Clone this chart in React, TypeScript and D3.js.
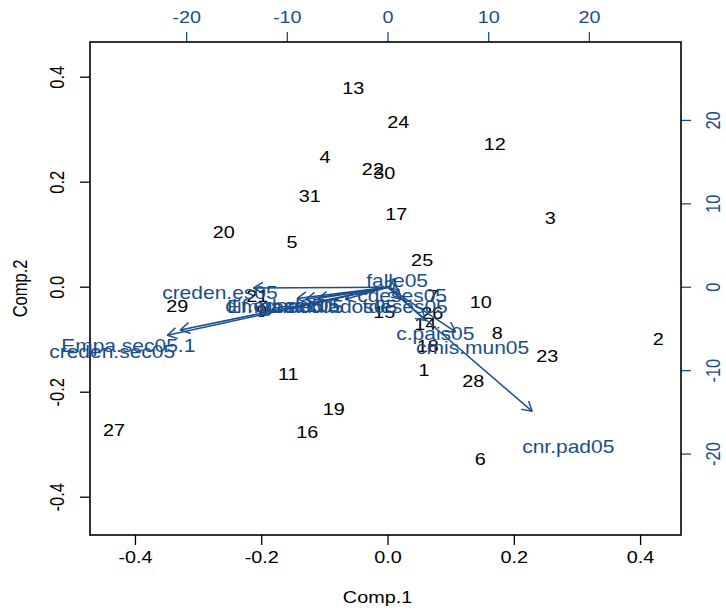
import React from "react";
import * as d3 from "d3";

// observation scores (Comp.1, Comp.2)
const obsNames = [
  "1", "2", "3", "4", "5", "6", "7", "8", "9", "10", "11", "12", "13", "14", "15", "16",
  "17", "18", "19", "20", "21", "22", "23", "24", "25", "26", "27", "28", "29", "30", "31"
];
const comp1 = [
  0.057, 0.428, 0.257, -0.1, -0.152, 0.146, 0.071, 0.173, -0.2, 0.147, -0.158, 0.169, -0.055, 0.059, -0.006, -0.128,
  0.013, 0.063, -0.086, -0.26, -0.207, -0.024, 0.252, 0.016, 0.054, 0.07, -0.434, 0.135, -0.334, -0.006, -0.124
];
const comp2 = [
  -0.15, -0.091, 0.14, 0.256, 0.094, -0.318, -0.009, -0.078, -0.036, -0.019, -0.156, 0.282, 0.387, -0.062, -0.038, -0.268,
  0.147, -0.104, -0.224, 0.113, -0.009, 0.233, -0.123, 0.324, 0.06, -0.04, -0.264, -0.171, -0.028, 0.225, 0.183
];

// variable loadings (label positions, top / right axes)
const varNames = [
  "creden.sec05", "Empa.sec05.1", "creden.es05", "dif.edad05", "Empa.sec05", "gr.sec05",
  "estudiados05", "tdeses05", "falle05", "cdeses05", "c.pais05", "cmis.mun05", "cnr.pad05"
];
const load1 = [-27.4, -25.8, -16.7, -11.3, -10.2, -8.7, -5.3, 1.7, 0.9, 1.4, 4.7, 8.4, 17.9];
const load2 = [-7.2, -6.4, -0.1, -1.7, -1.8, -1.7, -1.8, -1.8, 1.3, -0.5, -5.0, -6.7, -18.6];

const bottomTicks = [-0.4, -0.2, 0, 0.2, 0.4];
const leftTicks = [-0.4, -0.2, 0, 0.2, 0.4];
const topTicks = [-20, -10, 0, 10, 20];
const rightTicks = [-20, -10, 0, 10, 20];

const W = 726, H = 610;
const L = 90, R = 681, T = 42, B = 535;
const blue = "#1a4e8d";
const sx = 1.2; // picture is stretched horizontally
const font = "'Liberation Sans', Arial, Helvetica, sans-serif";

export default function App() {
  const x = d3.scaleLinear().domain([-0.472, 0.464]).range([L, R]);
  const y = d3.scaleLinear().domain([-0.472, 0.467]).range([B, T]);
  const x2 = d3.scaleLinear().domain([-29.6, 29.1]).range([L, R]);
  const y2 = d3.scaleLinear().domain([-29.7, 29.4]).range([B, T]);

  const label = (px: number, py: number, txt: string, color: string, key?: any, rot = false, fs = 16.5) => (
    <text
      key={key}
      transform={`translate(${px},${py}) scale(${sx},1)${rot ? " rotate(-90)" : ""}`}
      textAnchor="middle"
      dominantBaseline="central"
      fill={color}
      fontSize={fs}
      fontFamily={font}
    >
      {txt}
    </text>
  );

  const ox = x2(0), oy = y2(0);
  const arrows = varNames.map((n, i) => {
    const tx = x2(load1[i] * 0.8), ty = y2(load2[i] * 0.8);
    const ang = Math.atan2(ty - oy, tx - ox);
    const hl = 11, a = Math.PI / 6;
    const h1 = [tx - hl * Math.cos(ang - a), ty - hl * Math.sin(ang - a)];
    const h2 = [tx - hl * Math.cos(ang + a), ty - hl * Math.sin(ang + a)];
    return (
      <g key={n} stroke={blue} strokeWidth={1.5} fill="none">
        <line x1={ox} y1={oy} x2={tx} y2={ty} />
        <line x1={tx} y1={ty} x2={h1[0]} y2={h1[1]} />
        <line x1={tx} y1={ty} x2={h2[0]} y2={h2[1]} />
      </g>
    );
  });

  return (
    <svg width={W} height={H} style={{ position: "absolute", left: 0, top: 0, background: "#fff" }}>
      <rect x={0} y={0} width={W} height={H} fill="#fff" />

      {/* bottom axis */}
      {bottomTicks.map(t => (
        <g key={"b" + t}>
          <line x1={x(t)} x2={x(t)} y1={B} y2={B + 10} stroke="#000" strokeWidth={1.3} />
          {label(x(t), 558, t.toFixed(1), "#000")}
        </g>
      ))}
      {label((L + R) / 2 - 8, 598, "Comp.1", "#000")}

      {/* left axis */}
      {leftTicks.map(t => (
        <g key={"l" + t}>
          <line x1={L} x2={L - 10} y1={y(t)} y2={y(t)} stroke="#000" strokeWidth={1.3} />
          {label(57, y(t), t.toFixed(1), "#000", undefined, true)}
        </g>
      ))}
      {label(20, (T + B) / 2, "Comp.2", "#000", undefined, true)}

      {/* top axis */}
      {topTicks.map(t => (
        <g key={"t" + t}>
          <line x1={x2(t)} x2={x2(t)} y1={T} y2={T - 10} stroke={blue} strokeWidth={1.3} />
          {label(x2(t), 18, String(t), blue)}
        </g>
      ))}

      {/* right axis */}
      {rightTicks.map(t => (
        <g key={"r" + t}>
          <line x1={R} x2={R + 10} y1={y2(t)} y2={y2(t)} stroke={blue} strokeWidth={1.3} />
          {label(713, y2(t), String(t), blue, undefined, true)}
        </g>
      ))}

      <rect x={L} y={T} width={R - L} height={B - T} fill="none" stroke="#000" strokeWidth={1.6} />

      {/* observations */}
      {obsNames.map((n, i) => label(x(comp1[i]), y(comp2[i]) + 5, n, "#000", "o" + n))}

      {/* variables */}
      {varNames.map((n, i) => label(x2(load1[i]), y2(load2[i]) + 5, n, blue, "v" + n, false, 17.5))}
      {arrows}
    </svg>
  );
}
